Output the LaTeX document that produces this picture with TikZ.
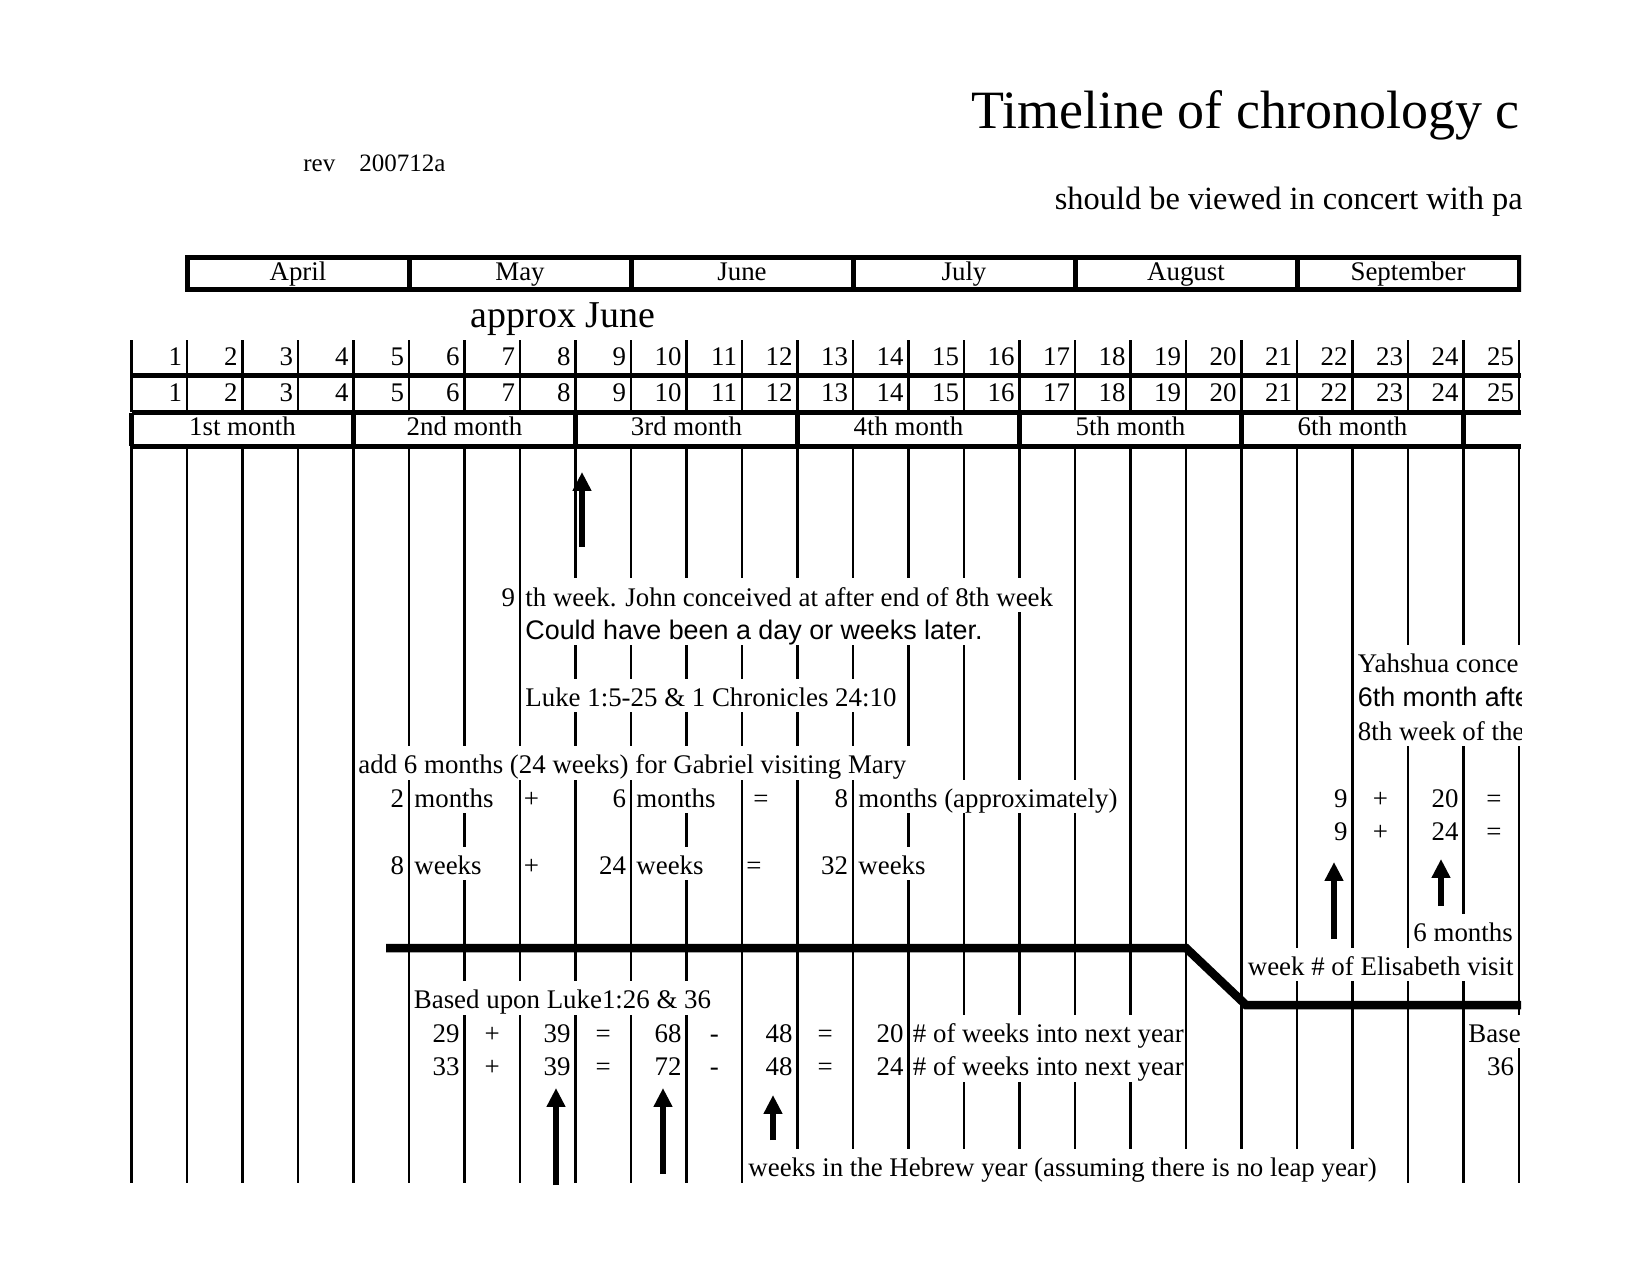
\documentclass[tikz,border=0pt]{standalone}
\usepackage{fontspec}
\setmainfont{Liberation Serif}
\newfontfamily\sansf{Liberation Sans}
\usetikzlibrary{arrows.meta}
\newcommand\gx[1]{131.5+55.5*#1}
\newcommand\ry[1]{578+33.6*#1}
\begin{document}
\begin{tikzpicture}[x=0.48pt,y=-0.48pt,
  gridline/.style={line width=1pt},
  heavy/.style={line width=2.4pt},
  bar/.style={line width=4.1pt},
  upar/.style={line width=2.9pt,-{Triangle[width=8.6pt,length=9.1pt]}},
  txt/.style={inner sep=0pt,font=\fontsize{12.9}{15}\selectfont},
  stxt/.style={inner sep=0pt,font=\sansf\fontsize{12.9}{15}\selectfont},
  mask/.style={fill=white,draw=none}]
\useasboundingbox (0,0) rectangle (1650,1275);
\newcommand\maskcells[3]{\fill[mask] ({\gx{#2}+1.6},{\ry{#1}}) rectangle ({\gx{#3}-1.6},{\ry{#1}+33.6});}
\begin{scope}
\clip (0,0) rectangle (1521,1275);
% ---------- header ----------
\node[txt,font=\fontsize{25.9}{30}\selectfont,anchor=base west] (title) at (971,128.5) {Timeline of chronology c};
\node[txt,font=\fontsize{12}{14}\selectfont,anchor=base west] (rev) at (303,171.5) {rev};
\node[txt,font=\fontsize{12}{14}\selectfont,anchor=base west] (revno) at (359,171.5) {200712a};
\node[txt,font=\fontsize{15.55}{18}\selectfont,anchor=base west] (note) at (1054.4,209.4) {should be viewed in concert with pa};
% ---------- calendar months ----------
\draw[heavy] (187,257) rectangle (1519,289);
\foreach \k in {1,...,5} \draw[heavy] ({187+222*\k},257) -- ({187+222*\k},289);
\foreach \m [count=\k from 0] in {April,May,June,July,August,September}
  \node[txt,anchor=base] (cal\k) at ({298+222*\k},280) {\m};
\node[txt,font=\fontsize{18.2}{21}\selectfont,anchor=base west] (approx) at (470.4,327.3) {approx June};
% ---------- week number rows ----------
\foreach \i in {0,...,25} \draw[gridline] ({\gx{\i}},340) -- ({\gx{\i}},412);
\draw[heavy] ({\gx{0}},375.5) -- (1521,375.5);
\foreach \k in {1,...,25} {
  \node[txt,anchor=base east] (wa\k) at ({\gx{\k}-4.5},365) {\k};
  \node[txt,anchor=base east] (wb\k) at ({\gx{\k}-4.5},401) {\k};
}
% ---------- hebrew months ----------
\draw[heavy] ({\gx{0}},412.5) -- (1521,412.5);
\draw[heavy] ({\gx{0}},446) -- (1521,446);
\foreach \i in {0,4,...,24} \draw[heavy] ({\gx{\i}},412.5) -- ({\gx{\i}},446);
\foreach \n [count=\k from 0] in {1st,2nd,3rd,4th,5th,6th}
  \node[txt,anchor=base] (hm\k) at ({242.5+222*\k},435) {\n\ month};
% ---------- body grid ----------
\foreach \i in {0,...,25} \draw[gridline] ({\gx{\i}},446) -- ({\gx{\i}},1183);
% text overflow masks (row, from line, to line)
\maskcells{0}{7}{17}
\maskcells{1}{7}{16}
\maskcells{2}{22}{26}
\maskcells{3}{7}{14}
\maskcells{3}{22}{26}
\maskcells{4}{22}{26}
\maskcells{5}{4}{15}
\maskcells{6}{5}{7}
\maskcells{6}{9}{11}
\maskcells{6}{13}{18}
\maskcells{8}{5}{7}
\maskcells{8}{9}{11}
\maskcells{8}{13}{15}
\maskcells{10}{23}{25}
\maskcells{11}{20}{25}
\maskcells{12}{5}{11}
\maskcells{13}{14}{19}
\maskcells{13}{24}{26}
\maskcells{14}{14}{19}
\maskcells{17}{11}{23}
% ---------- body texts ----------
\node[txt,anchor=base east] (n9) at ({\gx{7}-4.5},606) {9};
\node[txt,anchor=base west] (john) at (525,606) {th week. John conceived at after end of 8th week};
\node[stxt,anchor=base west] (could) at (525,639.4) {Could have been a day or weeks later.};
\node[txt,anchor=base west] (yah) at (1357.5,672.8) {Yahshua conce};
\node[txt,anchor=base west] (luke) at (525,706.4) {Luke 1:5-25 \& 1 Chronicles 24:10};
\node[stxt,anchor=base west] (sixth) at (1357.5,706.4) {6th month afte};
\node[txt,anchor=base west] (eighth) at (1357.5,740) {8th week of the};
\node[txt,anchor=base west] (add) at (358,773.5) {add 6 months (24 weeks) for Gabriel visiting Mary};
% row 6
\node[txt,anchor=base east] (a2) at ({\gx{5}-4.5},807) {2};
\node[txt,anchor=base west] (amo) at ({\gx{5}+5},807) {months};
\node[txt,anchor=base] (apl) at (531.5,807) {+};
\node[txt,anchor=base east] (a6) at ({\gx{9}-4.5},807) {6};
\node[txt,anchor=base west] (amo2) at ({\gx{9}+5},807) {months};
\node[txt,anchor=base] (aeq) at (761,807) {=};
\node[txt,anchor=base east] (a8) at ({\gx{13}-4.5},807) {8};
\node[txt,anchor=base west] (amo3) at ({\gx{13}+5},807) {months (approximately)};
\node[txt,anchor=base east] (r9a) at ({\gx{22}-4.5},807) {9};
\node[txt,anchor=base] (rpa) at (1380.5,807) {+};
\node[txt,anchor=base east] (r20) at ({\gx{24}-4.5},807) {20};
\node[txt,anchor=base] (rea) at (1494,807) {=};
% row 7
\node[txt,anchor=base east] (r9b) at ({\gx{22}-4.5},840.6) {9};
\node[txt,anchor=base] (rpb) at (1380.5,840.6) {+};
\node[txt,anchor=base east] (r24) at ({\gx{24}-4.5},840.6) {24};
\node[txt,anchor=base] (reb) at (1494,840.6) {=};
% row 8
\node[txt,anchor=base east] (b8) at ({\gx{5}-4.5},874.2) {8};
\node[txt,anchor=base west] (bwk) at ({\gx{5}+5},874.2) {weeks};
\node[txt,anchor=base] (bpl) at (531.5,874.2) {+};
\node[txt,anchor=base east] (b24) at ({\gx{9}-4.5},874.2) {24};
\node[txt,anchor=base west] (bwk2) at ({\gx{9}+5},874.2) {weeks};
\node[txt,anchor=base] (beq) at (754,874.2) {=};
\node[txt,anchor=base east] (b32) at ({\gx{13}-4.5},874.2) {32};
\node[txt,anchor=base west] (bwk3) at ({\gx{13}+5},874.2) {weeks};
% row 10, 11
\begin{scope}
\clip ({\gx{23}},914) rectangle ({\gx{25}-1},948);
\node[txt,anchor=base west] (sixmo) at ({\gx{23}+5},941.4) {6 months};
\end{scope}
\node[txt,anchor=base east] (elis) at ({\gx{25}-5},975) {week \# of Elisabeth visit};
% row 12
\node[txt,anchor=base west] (based) at ({\gx{5}+4.5},1008.6) {Based upon Luke1:26 \& 36};
% rows 13, 14
\foreach \yy/\aa/\cc/\ee/\nm in {1042.2/29/68/20/c,1075.8/33/72/24/d} {
  \node[txt,anchor=base east] (\nm1) at ({\gx{6}-4.5},\yy) {\aa};
  \node[txt,anchor=base] (\nm2) at (492.3,\yy) {+};
  \node[txt,anchor=base east] (\nm3) at ({\gx{8}-4.5},\yy) {39};
  \node[txt,anchor=base] (\nm4) at (603.3,\yy) {=};
  \node[txt,anchor=base east] (\nm5) at ({\gx{10}-4.5},\yy) {\cc};
  \node[txt,anchor=base] (\nm6) at (714.3,\yy) {-};
  \node[txt,anchor=base east] (\nm7) at ({\gx{12}-4.5},\yy) {48};
  \node[txt,anchor=base] (\nm8) at (825.3,\yy) {=};
  \node[txt,anchor=base east] (\nm9) at ({\gx{14}-4.5},\yy) {\ee};
  \node[txt,anchor=base west] (\nm10) at ({\gx{14}+4},\yy) {\# of weeks into next year};
}
\node[txt,anchor=base west] (base) at ({\gx{24}+4.5},1042.2) {Base};
\node[txt,anchor=base east] (r36) at ({\gx{25}-4.5},1075.8) {36};
\node[txt,anchor=base west] (hebrew) at ({\gx{11}+6},1176.4) {weeks in the Hebrew year (assuming there is no leap year)};
% ---------- thick line ----------
\coordinate (L0) at (386,948);
\coordinate (L1) at (1186,948);
\coordinate (L2) at (1246,1005);
\coordinate (L3) at (1525,1005);
\draw[bar,line join=miter] (L0) -- (L1) -- (L2) -- (L3);
% ---------- arrows ----------
\coordinate (a1s) at (582,547); \coordinate (a1e) at (582,472);
\coordinate (a2s) at (1334,939); \coordinate (a2e) at (1334,862);
\coordinate (a3s) at (1441,906); \coordinate (a3e) at (1441,859);
\coordinate (a4s) at (556,1185); \coordinate (a4e) at (556,1088);
\coordinate (a5s) at (663,1174); \coordinate (a5e) at (663,1088);
\coordinate (a6s) at (773,1140); \coordinate (a6e) at (773,1095);
\foreach \k in {1,...,6} \draw[upar] (a\k s) -- (a\k e);
\end{scope}
\end{tikzpicture}
\end{document}
